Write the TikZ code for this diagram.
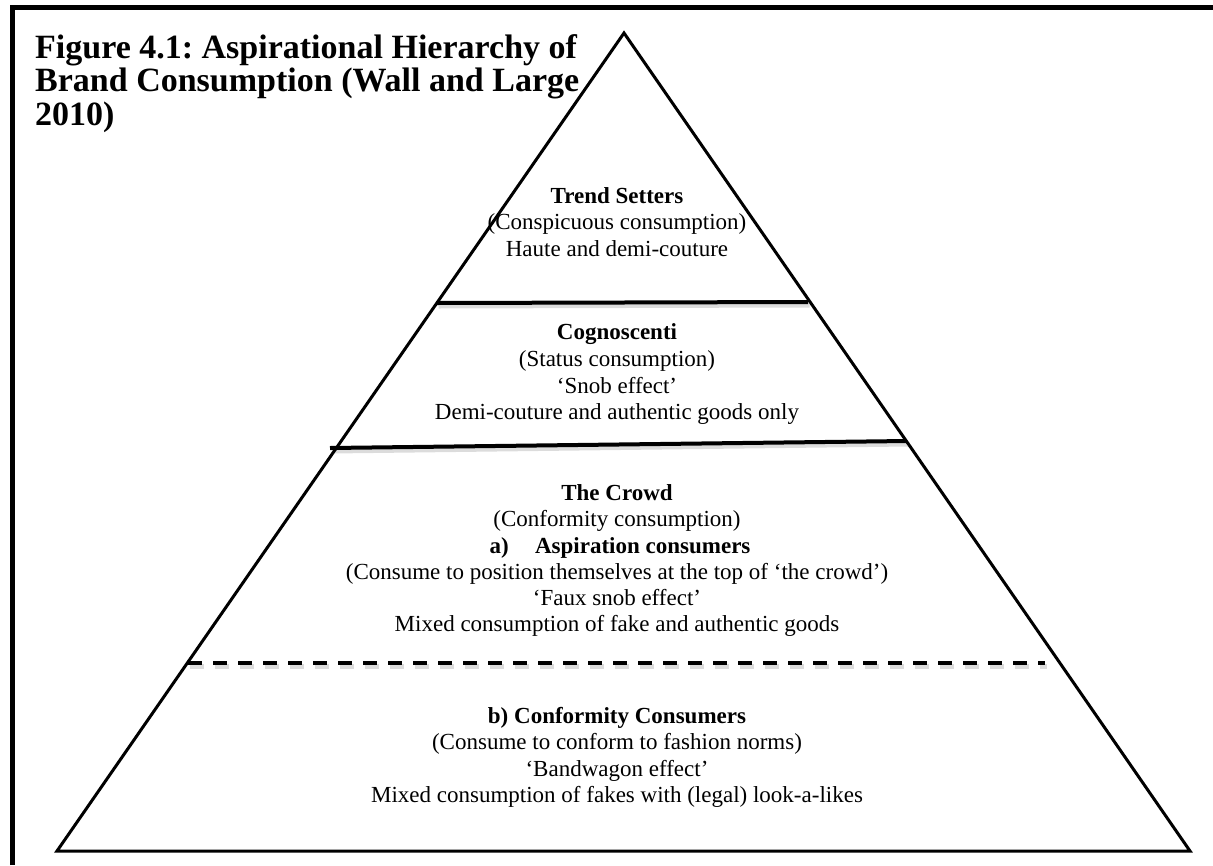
\documentclass[tikz,border=0pt]{standalone}
\usepackage{fontspec}
\setmainfont{Liberation Serif}
\frenchspacing
\begin{document}
\begin{tikzpicture}[x=1pt,y=-1pt,
  tline/.style={anchor=base, inner sep=0pt, font=\fontsize{23}{26}\selectfont},
  tbold/.style={anchor=base, inner sep=0pt, font=\fontsize{23}{26}\selectfont\bfseries},
  ttitle/.style={anchor=base west, inner sep=0pt, font=\fontsize{34}{34}\selectfont\bfseries},
  framerule/.style={line width=5pt, line join=miter},
  side/.style={line width=3pt, line join=miter},
  tier/.style={line width=4pt},
  tiershadow/.style={line width=5pt, black!30, opacity=0.45},
]
\useasboundingbox (0,0) rectangle (1213,865);

% open frame: left and top rules
\coordinate (fbl) at (12.5,865);
\coordinate (ftl) at (12.5,7.5);
\coordinate (ftr) at (1213,7.5);
\draw[framerule] (fbl) -- (ftl) -- (ftr);

% title
\node[ttitle] (title1) at (35,58) {Figure 4.1: Aspirational Hierarchy of};
\node[ttitle] (title2) at (35,91.5) {Brand Consumption (Wall and Large};
\node[ttitle] (title3) at (35,125) {2010)};

% pyramid outline
\coordinate (apex) at (624,33);
\coordinate (bl) at (57,851);
\coordinate (br) at (1190,851);

% tier dividers
\coordinate (d1l) at (437,303);
\coordinate (d1r) at (808,302);
\coordinate (d2l) at (330,448);
\coordinate (d2r) at (907,441);
\coordinate (d3l) at (188,663);
\coordinate (d3r) at (1045,663);

\draw[tiershadow] ([shift={(1.5,3)}]d1l) -- ([shift={(1.5,3)}]d1r);
\draw[tiershadow] ([shift={(1.5,3)}]d2l) -- ([shift={(1.5,3)}]d2r);
\draw[tiershadow, dash pattern=on 14pt off 11pt] ([shift={(1.5,3)}]d3l) -- ([shift={(1.5,3)}]d3r);

\draw[side] (bl) -- (apex) -- (br) -- cycle;
\draw[tier] (d1l) -- (d1r);
\draw[tier] (d2l) -- (d2r);
\draw[tier, dash pattern=on 14pt off 11pt] (d3l) -- (d3r);

% tier 1
\node[tbold] (ts1) at (617,203) {Trend Setters};
\node[tline] (ts2) at (617,229) {(Conspicuous consumption)};
\node[tline] (ts3) at (617,256) {Haute and demi-couture};

% tier 2
\node[tbold] (cg1) at (617,339) {Cognoscenti};
\node[tline] (cg2) at (617,366) {(Status consumption)};
\node[tline] (cg3) at (617,393) {`Snob effect'};
\node[tline] (cg4) at (617,419) {Demi-couture and authentic goods only};

% tier 3
\node[tbold] (cr1) at (617,500) {The Crowd};
\node[tline] (cr2) at (617,526) {(Conformity consumption)};
\node[tbold] (cr3) at (620,553) {a)\hspace{1.15em}Aspiration consumers};
\node[tline] (cr4) at (617,579) {(Consume to position themselves at the top of `the crowd')};
\node[tline] (cr5) at (617,605) {`Faux snob effect'};
\node[tline] (cr6) at (617,631) {Mixed consumption of fake and authentic goods};

% tier 4
\node[tbold] (cf1) at (617,723) {b) Conformity Consumers};
\node[tline] (cf2) at (617,749) {(Consume to conform to fashion norms)};
\node[tline] (cf3) at (617,776) {`Bandwagon effect'};
\node[tline] (cf4) at (617,802) {Mixed consumption of fakes with (legal) look-a-likes};
\end{tikzpicture}
\end{document}
